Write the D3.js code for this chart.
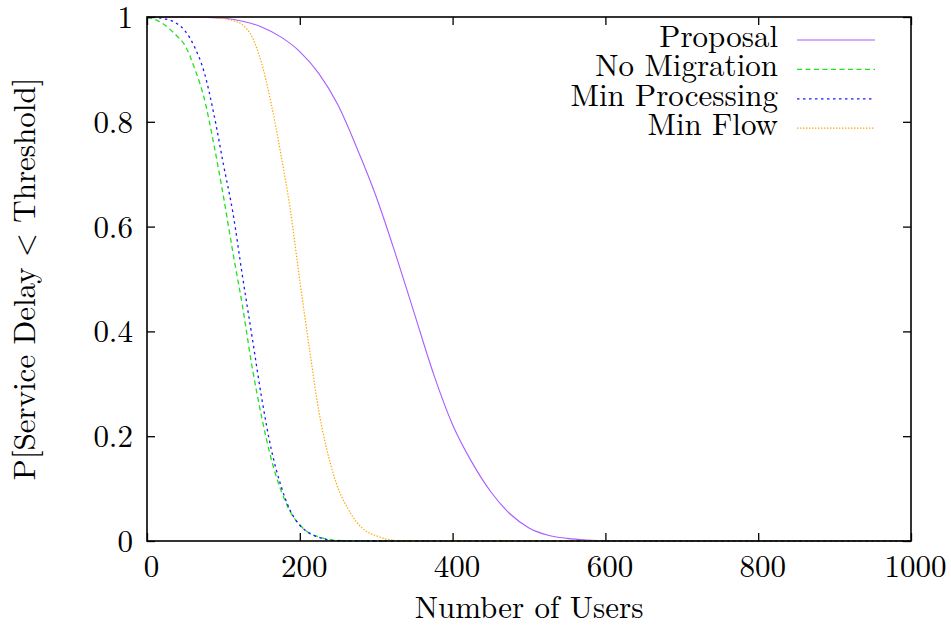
<!DOCTYPE html>
<html>
<head>
<meta charset="utf-8">
<script src="https://cdn.jsdelivr.net/npm/d3@7"></script>
<style>
  html, body { margin: 0; padding: 0; background: #fff; }
  svg { display: block; }
</style>
</head>
<body>
<svg id="chart" width="951" height="628"></svg>
<script>
// ---- Data ----
const xTicks = [0, 200, 400, 600, 800, 1000];
const yTicks = [0, 0.2, 0.4, 0.6, 0.8, 1];
const yTickLabels = ["0", "0.2", "0.4", "0.6", "0.8", "1"];

const seriesNames = ["Proposal", "No Migration", "Min Processing", "Min Flow"];

const proposalX = [0, 25, 50, 75, 100, 125, 150, 175, 200, 225, 250, 275, 300, 325, 350, 375, 400, 425, 450, 475, 500, 525, 550, 575, 600, 700, 800, 900, 1000];
const proposalY = [1, 1, 1, 0.9995, 0.998, 0.992, 0.981, 0.962, 0.934, 0.892, 0.832, 0.749, 0.657, 0.549, 0.434, 0.319, 0.222, 0.151, 0.094, 0.052, 0.025, 0.011, 0.005, 0.002, 0.0005, 0, 0, 0, 0];

const noMigX = [0, 12.5, 25, 37.5, 50, 62.5, 75, 87.5, 100, 112.5, 125, 137.5, 150, 162.5, 175, 187.5, 200, 212.5, 225, 237.5, 250, 300, 400, 600, 800, 1000];
const noMigY = [0.999, 0.994, 0.983, 0.966, 0.945, 0.901, 0.844, 0.757, 0.658, 0.55, 0.448, 0.333, 0.237, 0.157, 0.098, 0.056, 0.031, 0.015, 0.008, 0.003, 0.001, 0, 0, 0, 0, 0];

const minProcX = [0, 12.5, 25, 37.5, 50, 62.5, 75, 87.5, 100, 112.5, 125, 137.5, 150, 162.5, 175, 187.5, 200, 212.5, 225, 237.5, 250, 300, 400, 600, 800, 1000];
const minProcY = [1, 0.999, 0.996, 0.989, 0.973, 0.942, 0.894, 0.815, 0.719, 0.626, 0.505, 0.39, 0.274, 0.176, 0.107, 0.058, 0.03, 0.015, 0.007, 0.002, 0.0005, 0, 0, 0, 0, 0];

const minFlowX = [0, 50, 75, 100, 112.5, 125, 137.5, 150, 162.5, 175, 187.5, 200, 212.5, 225, 237.5, 250, 262.5, 275, 287.5, 300, 312.5, 325, 337.5, 400, 600, 800, 1000];
const minFlowY = [1, 1, 0.9995, 0.997, 0.993, 0.985, 0.962, 0.912, 0.835, 0.74, 0.633, 0.497, 0.368, 0.247, 0.162, 0.101, 0.063, 0.035, 0.018, 0.01, 0.004, 0.001, 0, 0, 0, 0, 0];

// ---- Layout ----
const svg = d3.select("#chart");
const mLeft = 147, mRight = 911, mTop = 17, mBottom = 541;
const FONT = "Latin Modern Roman";

const x = d3.scaleLinear().domain([0, 1000]).range([mLeft, mRight]);
const y = d3.scaleLinear().domain([0, 1]).range([mBottom, mTop]);

const styles = [
  { color: "#a95cff", width: 1.1, dash: null },
  { color: "#22e022", width: 1.3, dash: "5,3.5" },
  { color: "#1a1aff", width: 1.3, dash: "2.5,3.5" },
  { color: "#ffa500", width: 1.2, dash: "1.4,1.6" }
];

const series = [
  { xs: proposalX, ys: proposalY },
  { xs: noMigX, ys: noMigY },
  { xs: minProcX, ys: minProcY },
  { xs: minFlowX, ys: minFlowY }
];

const line = d3.line()
  .x(d => x(d[0]))
  .y(d => y(d[1]))
  .curve(d3.curveMonotoneX);

const plot = svg.append("g");
plot.append("clipPath").attr("id", "clip")
  .append("rect").attr("x", mLeft).attr("y", mTop - 2).attr("width", mRight - mLeft).attr("height", mBottom - mTop + 4);

series.forEach((s, i) => {
  const pts = s.xs.map((v, j) => [v, s.ys[j]]);
  plot.append("path")
    .attr("d", line(pts))
    .attr("fill", "none")
    .attr("clip-path", "url(#clip)")
    .attr("stroke", styles[i].color)
    .attr("stroke-width", styles[i].width)
    .attr("stroke-dasharray", styles[i].dash);
});

// ---- Axes (ticks inward, mirrored) ----
const tickLen = 8;
const fs = 31;

const axisBottom = d3.axisBottom(x).tickValues(xTicks).tickSize(-tickLen).tickFormat(d3.format("d"));
const gx = svg.append("g").attr("transform", `translate(0,${mBottom})`).call(axisBottom);
const axisTop = d3.axisTop(x).tickValues(xTicks).tickSize(-tickLen).tickFormat("");
const gxt = svg.append("g").attr("transform", `translate(0,${mTop})`).call(axisTop);

const axisLeft = d3.axisLeft(y).tickValues(yTicks).tickSize(-tickLen)
  .tickFormat((d, i) => yTickLabels[i]);
const gy = svg.append("g").attr("transform", `translate(${mLeft},0)`).call(axisLeft);
const axisRight = d3.axisRight(y).tickValues(yTicks).tickSize(-tickLen).tickFormat("");
const gyr = svg.append("g").attr("transform", `translate(${mRight},0)`).call(axisRight);

[gx, gxt, gy, gyr].forEach(g => {
  g.attr("font-family", FONT).attr("font-size", fs);
  g.select(".domain").remove();
  g.selectAll(".tick line").attr("stroke", "#000").attr("stroke-width", 1.3);
  g.selectAll(".tick text").attr("font-size", fs).attr("font-family", FONT).attr("fill", "#000");
});
gx.selectAll(".tick text").attr("dy", "0.71em").attr("y", 14).attr("x", 4);
gy.selectAll(".tick text").attr("dy", "0.34em").attr("x", -14);

// frame
svg.append("rect")
  .attr("x", mLeft).attr("y", mTop)
  .attr("width", mRight - mLeft).attr("height", mBottom - mTop)
  .attr("fill", "none").attr("stroke", "#000").attr("stroke-width", 1.6);

// ---- Axis titles ----
svg.append("text")
  .attr("x", (mLeft + mRight) / 2).attr("y", 618)
  .attr("text-anchor", "middle").attr("font-size", fs).attr("font-family", FONT)
  .text("Number of Users");

svg.append("text")
  .attr("transform", `translate(35,${(mTop + mBottom) / 2}) rotate(-90)`)
  .attr("text-anchor", "middle").attr("font-size", fs).attr("font-family", FONT)
  .text("P[Service Delay < Threshold]");

// ---- Legend ----
const legendTextRight = 778;
const legendLineX0 = 797, legendLineX1 = 875;
const legendY0 = 40, legendDy = 29.4;

seriesNames.forEach((name, i) => {
  const ly = legendY0 + i * legendDy;
  svg.append("text")
    .attr("x", legendTextRight).attr("y", ly + 7)
    .attr("text-anchor", "end").attr("font-size", fs).attr("font-family", FONT)
    .text(name);
  svg.append("line")
    .attr("x1", legendLineX0).attr("x2", legendLineX1)
    .attr("y1", ly).attr("y2", ly)
    .attr("stroke", styles[i].color)
    .attr("stroke-width", styles[i].width)
    .attr("stroke-dasharray", styles[i].dash);
});
</script>
</body>
</html>
